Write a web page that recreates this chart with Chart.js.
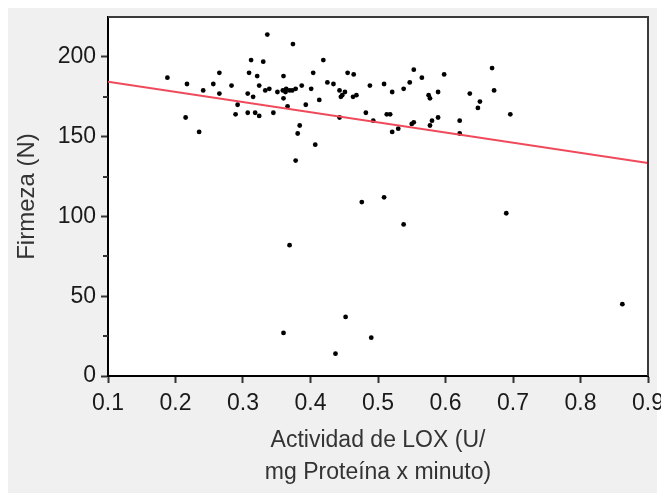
<!DOCTYPE html>
<html>
<head>
<meta charset="utf-8">
<script src="https://cdn.jsdelivr.net/npm/chart.js@4/dist/chart.umd.min.js"></script>
<style>
  html, body { margin: 0; padding: 0; background: #ffffff; }
  #wrap { width: 661px; height: 497px; }
</style>
</head>
<body>
<div id="wrap"><canvas id="grafico" width="661" height="497"></canvas></div>
<script>
// actividad de LOX vs firmeza
const loxX = [
  0.336, 0.374, 0.312, 0.330, 0.419, 0.188, 0.265, 0.309, 0.321, 0.360,
  0.404, 0.455, 0.464, 0.217, 0.256, 0.283, 0.324, 0.241, 0.265, 0.307,
  0.315, 0.333, 0.339, 0.351, 0.359, 0.364, 0.369, 0.363, 0.373, 0.378,
  0.387, 0.401, 0.425, 0.434, 0.443, 0.451, 0.447, 0.445, 0.468, 0.463,
  0.488, 0.360, 0.292, 0.366, 0.393, 0.413, 0.289, 0.307, 0.318, 0.324,
  0.345, 0.443, 0.482, 0.493, 0.215, 0.235, 0.384, 0.381, 0.407, 0.378,
  0.476, 0.553, 0.669, 0.598, 0.565, 0.547, 0.509, 0.538, 0.521, 0.589,
  0.575, 0.577, 0.636, 0.672, 0.651, 0.648, 0.696, 0.513, 0.518, 0.553,
  0.550, 0.580, 0.589, 0.621, 0.530, 0.521, 0.577, 0.621, 0.509, 0.369,
  0.452, 0.360, 0.437, 0.490, 0.538, 0.690, 0.862
];
const firmezaY = [
  214, 208, 198, 197, 198, 187, 190, 190, 188, 188,
  190, 190, 189, 183, 183, 182, 182, 179, 177, 177,
  175, 179, 180, 178, 179, 180, 179, 178, 179, 180,
  182, 180, 184, 183, 179, 178, 176, 175, 176, 175,
  182, 174, 170, 169, 170, 173, 164, 165, 165, 163,
  165, 162, 165, 160, 162, 153, 157, 152, 145, 135,
  109, 192, 193, 189, 187, 184, 183, 180, 178, 178,
  176, 174, 177, 179, 172, 168, 164, 164, 164, 159,
  158, 160, 162, 160, 155, 153, 157, 152, 112, 82,
  37, 27, 14, 24, 95, 102, 45
];
// recta de ajuste
const ajusteX = [0.1, 0.9];
const ajusteY = [184.5, 133.5];

const xTicks = [0.1, 0.2, 0.3, 0.4, 0.5, 0.6, 0.7, 0.8, 0.9];
const yTicks = [0, 50, 100, 150, 200];
const yMinor = [25, 75, 125, 175];

const puntos = loxX.map((x, i) => ({ x: x, y: firmezaY[i] }));
const recta = ajusteX.map((x, i) => ({ x: x, y: ajusteY[i] }));

const fuente = "Liberation Sans, Arial, sans-serif";

const fondo = {
  id: "fondo",
  beforeDraw(chart) {
    const ctx = chart.ctx;
    const a = chart.chartArea;
    ctx.save();
    ctx.fillStyle = "#ffffff";
    ctx.fillRect(0, 0, chart.width, chart.height);
    ctx.fillStyle = "#f0f0f0";
    ctx.fillRect(8, 8, 649, 485);
    ctx.fillStyle = "#ffffff";
    ctx.fillRect(a.left, a.top, a.right - a.left, a.bottom - a.top);
    ctx.restore();
  },
  afterDraw(chart) {
    const ctx = chart.ctx;
    const a = chart.chartArea;
    const ys = chart.scales.y;
    ctx.save();
    ctx.strokeStyle = "#3a3a3a";
    ctx.lineWidth = 2;
    ctx.beginPath();
    ctx.moveTo(a.left, a.top);
    ctx.lineTo(a.right, a.top);
    ctx.lineTo(a.right, a.bottom);
    ctx.stroke();
    // marcas menores eje y
    ctx.strokeStyle = "#333";
    yMinor.forEach(v => {
      const py = Math.round(ys.getPixelForValue(v));
      ctx.beginPath();
      ctx.moveTo(a.left - 5, py);
      ctx.lineTo(a.left, py);
      ctx.stroke();
    });
    ctx.restore();
  }
};

new Chart(document.getElementById("grafico"), {
  data: {
    datasets: [
      {
        type: "scatter",
        label: "Firmeza",
        data: puntos,
        backgroundColor: "#000000",
        borderColor: "#000000",
        pointRadius: 2.4,
        pointBorderWidth: 0,
        order: 2
      },
      {
        type: "line",
        label: "Ajuste",
        data: recta,
        borderColor: "#f04a5a",
        borderWidth: 2,
        pointRadius: 0,
        fill: false,
        order: 1
      }
    ]
  },
  options: {
    responsive: false,
    animation: false,
    devicePixelRatio: 1,
    layout: { padding: { top: 17, right: 13, left: 0, bottom: 0 } },
    plugins: {
      legend: { display: false },
      tooltip: { enabled: false }
    },
    scales: {
      x: {
        type: "linear",
        min: 0.1,
        max: 0.9,
        afterBuildTicks: s => { s.ticks = xTicks.map(v => ({ value: v })); },
        afterFit: s => { s.height = 121; s.paddingLeft = 0; s.paddingRight = 0; },
        ticks: {
          color: "#1a1a1a",
          font: { family: fuente, size: 23 },
          padding: 7,
          maxRotation: 0,
          callback: v => v.toFixed(1)
        },
        grid: { drawOnChartArea: false, tickLength: 7, tickColor: "#333", tickWidth: 2 },
        border: { color: "#000", width: 2 },
        title: {
          display: true,
          text: ["Actividad de LOX (U/", "mg Proteína x minuto)"],
          color: "#333333",
          font: { family: fuente, size: 23, lineHeight: 1.39 },
          padding: { top: 0, bottom: 8 }
        }
      },
      y: {
        type: "linear",
        min: 0,
        max: 225,
        afterBuildTicks: s => { s.ticks = yTicks.map(v => ({ value: v })); },
        afterFit: s => { s.width = 108; s.paddingTop = 0; s.paddingBottom = 0; },
        ticks: {
          color: "#1a1a1a",
          font: { family: fuente, size: 23 },
          padding: 5
        },
        grid: { drawOnChartArea: false, tickLength: 7, tickColor: "#333", tickWidth: 2 },
        border: { color: "#000", width: 2 },
        title: {
          display: true,
          text: "Firmeza (N)",
          color: "#333333",
          font: { family: fuente, size: 24 },
          padding: { top: 13, bottom: 0 }
        }
      }
    }
  },
  plugins: [fondo]
});
</script>
</body>
</html>
